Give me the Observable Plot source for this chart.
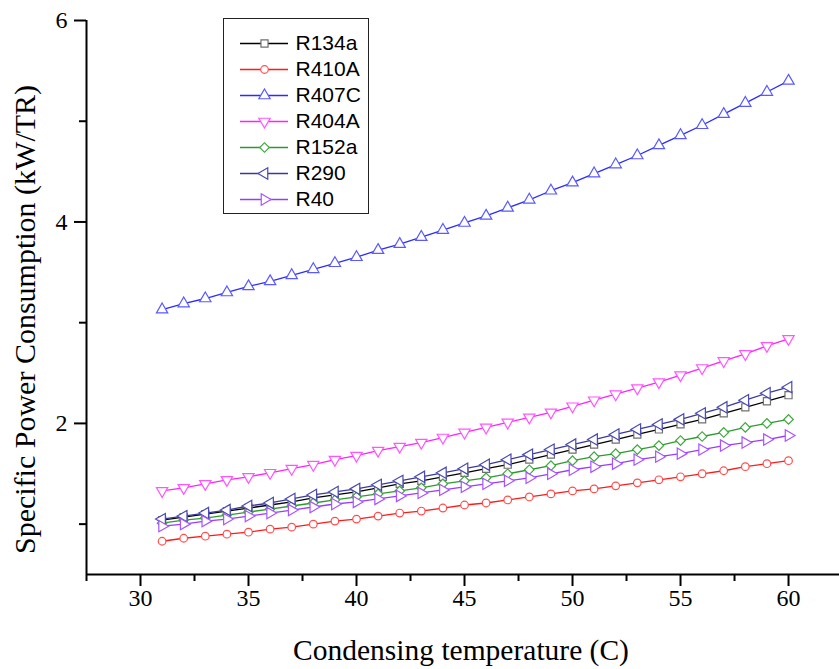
<!DOCTYPE html>
<html><head><meta charset="utf-8">
<script src="https://cdn.jsdelivr.net/npm/d3@7"></script>
<script src="https://cdn.jsdelivr.net/npm/@observablehq/plot@0.6"></script>
<style>
body{margin:0;background:#fff}
#wrap{position:relative;width:839px;height:669px}
#legend{position:absolute;left:223px;top:18px}
#legend svg{border:1.5px solid #222;display:block}
</style></head><body><div id="wrap"><div id="chart"></div><div id="legend"></div></div>
<script>
const temps = [31,32,33,34,35,36,37,38,39,40,41,42,43,44,45,46,47,48,49,50,51,52,53,54,55,56,57,58,59,60];
const R134a = [1.04,1.07,1.10,1.13,1.16,1.19,1.22,1.26,1.29,1.32,1.36,1.40,1.43,1.47,1.51,1.55,1.59,1.64,1.69,1.74,1.79,1.84,1.89,1.94,1.99,2.04,2.10,2.16,2.22,2.28];
const R410A = [0.83,0.86,0.88,0.90,0.92,0.95,0.97,1.00,1.03,1.05,1.08,1.11,1.13,1.16,1.19,1.21,1.24,1.27,1.30,1.33,1.35,1.38,1.41,1.44,1.47,1.50,1.53,1.57,1.60,1.63];
const R407C = [3.13,3.19,3.24,3.30,3.36,3.41,3.47,3.53,3.59,3.65,3.72,3.78,3.85,3.92,3.99,4.06,4.14,4.22,4.31,4.39,4.48,4.57,4.66,4.76,4.86,4.96,5.07,5.18,5.29,5.40];
const R404A = [1.33,1.36,1.40,1.44,1.47,1.51,1.55,1.59,1.64,1.68,1.73,1.77,1.81,1.86,1.91,1.96,2.01,2.06,2.11,2.17,2.23,2.29,2.35,2.41,2.48,2.55,2.62,2.69,2.77,2.84];
const R152a = [1.01,1.04,1.06,1.09,1.12,1.15,1.18,1.21,1.24,1.27,1.30,1.33,1.36,1.40,1.43,1.46,1.50,1.54,1.58,1.63,1.67,1.70,1.74,1.78,1.83,1.87,1.91,1.96,2.00,2.04];
const R290 = [1.05,1.08,1.11,1.14,1.18,1.21,1.25,1.29,1.32,1.35,1.39,1.43,1.47,1.51,1.55,1.59,1.64,1.69,1.74,1.79,1.84,1.89,1.94,1.99,2.04,2.10,2.16,2.23,2.30,2.36];
const R40 = [0.98,1.00,1.03,1.05,1.08,1.11,1.14,1.17,1.20,1.22,1.25,1.28,1.31,1.34,1.37,1.40,1.43,1.46,1.50,1.54,1.57,1.60,1.64,1.67,1.70,1.74,1.78,1.81,1.84,1.88];

const names = ["R134a","R410A","R407C","R404A","R152a","R290","R40"];
const seriesValues = [R134a, R410A, R407C, R404A, R152a, R290, R40];
const lineColors = ["#000000","#ff1a1a","#2b2bff","#ff22ff","#2e9a2e","#3a3a9e","#9a3cff"];
const markColors = ["#707070","#ff4d4d","#5a5aff","#ff55ff","#3fa83f","#4a4ab0","#a855ff"];
const symbols = ["square","circle","triangle","triangle","square","triangle","triangle"];
const rotations = [0,0,0,180,45,-90,90];
const radii = [4,3.8,4.2,4.2,3.8,4.2,4.2];

const xMajor = [30,35,40,45,50,55,60];
const xMinor = [27.5,32.5,37.5,42.5,47.5,52.5,57.5];
const yMajor = [2,4,6];
const yMinor = [1,3,5];
const xTitle = "Condensing temperature (C)";
const yTitle = "Specific Power Consumption (kW/TR)";

const serif = "'Liberation Serif','Times New Roman',serif";
const seriesData = seriesValues.map(vals => vals.map((v, j) => ({t: temps[j], v})));

const seriesMarks = seriesData.flatMap((d, i) => [
  Plot.line(d, {x: "t", y: "v", stroke: lineColors[i], strokeWidth: 1.3}),
  Plot.dot(d, {x: "t", y: "v", symbol: symbols[i], rotate: rotations[i], r: radii[i], fill: "white", stroke: markColors[i], strokeWidth: 1.2})
]);

const chart = Plot.plot({
  width: 839, height: 669,
  marginLeft: 86, marginRight: 0, marginTop: 20, marginBottom: 95,
  x: {domain: [27.5, 62.36]},
  y: {domain: [0.5, 6]},
  style: {fontFamily: serif, background: "white", color: "black"},
  marks: [
    Plot.axisX(xMajor, {tickSize: 12, tickFormat: () => "", strokeWidth: 2, label: null}),
    Plot.axisX(xMinor, {tickSize: 7, tickFormat: () => "", strokeWidth: 2, label: null}),
    Plot.axisY(yMajor, {tickSize: 12, tickFormat: () => "", strokeWidth: 2, label: null}),
    Plot.axisY(yMinor, {tickSize: 7, tickFormat: () => "", strokeWidth: 2, label: null}),
    Plot.text(xMajor, {x: d => d, text: d => String(d), frameAnchor: "bottom", dy: 31, fontSize: 24, fontFamily: serif, fill: "black"}),
    Plot.text(yMajor, {y: d => d, text: d => String(d), frameAnchor: "left", textAnchor: "end", dx: -19, fontSize: 24, fontFamily: serif, fill: "black"}),
    Plot.ruleY([0.5], {strokeWidth: 2}),
    Plot.ruleX([27.5], {y1: 0.5, y2: 6, strokeWidth: 2}),
    ...seriesMarks,
    Plot.text([xTitle], {frameAnchor: "bottom", dx: -2, dy: 85, fontSize: 29.5, fontFamily: serif, fill: "black"}),
    Plot.text([yTitle], {frameAnchor: "left", textAnchor: "middle", rotate: -90, dx: -61, dy: 22, fontSize: 30, fontFamily: serif, fill: "black"})
  ]
});
document.getElementById("chart").append(chart);

const legendMarks = names.flatMap((n, i) => [
  Plot.ruleY([n], {x1: 0, x2: 1, stroke: lineColors[i], strokeWidth: 1.3}),
  Plot.dot([n], {x: 0.5, y: d => d, symbol: symbols[i], rotate: rotations[i], r: radii[i], fill: "white", stroke: markColors[i], strokeWidth: 1.2}),
  Plot.text([n], {x: 1, y: d => d, text: d => d, textAnchor: "start", dx: 7, fontSize: 21, fill: "black"})
]);
const legend = Plot.plot({
  width: 144, height: 194,
  marginLeft: 16, marginRight: 80, marginTop: 22, marginBottom: 13,
  x: {domain: [0, 1], axis: null},
  y: {type: "point", domain: names, padding: 0, axis: null},
  style: {fontFamily: "'Liberation Sans',Arial,sans-serif", background: "white", color: "black"},
  marks: legendMarks
});
document.getElementById("legend").append(legend);
</script>
</body></html>
